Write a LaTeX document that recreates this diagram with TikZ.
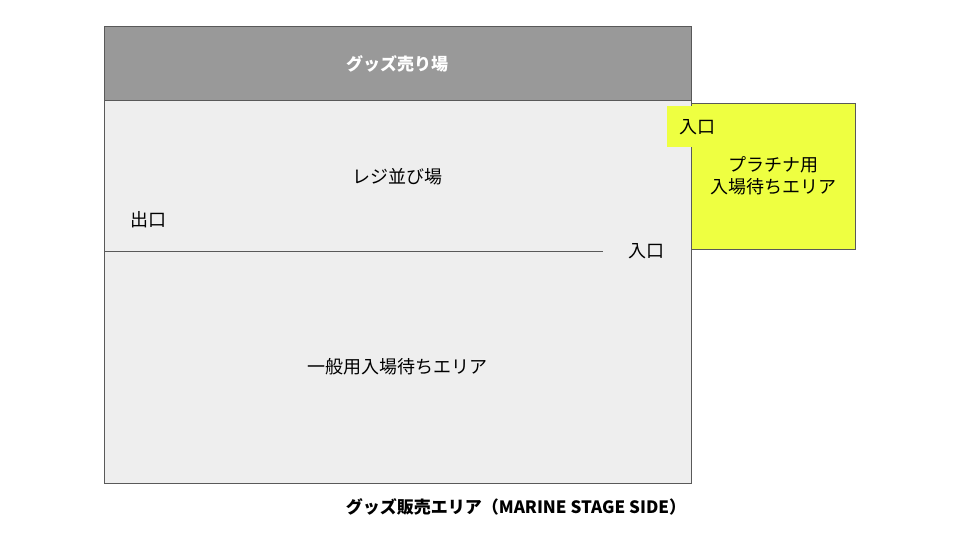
\documentclass[tikz,border=0pt]{standalone}
\usepackage{fontspec}
\setmainfont{Noto Sans CJK JP}
\usetikzlibrary{positioning}
\definecolor{vienxam}{RGB}{89,89,89}
\definecolor{xamdam}{RGB}{153,153,153}
\definecolor{xamnhat}{RGB}{238,238,238}
\definecolor{vangchanh}{RGB}{238,255,65}
\tikzset{
  vien/.style={draw=vienxam, line width=1pt},
  chu/.style={font=\fontsize{18}{22}\selectfont, inner sep=0pt, align=center}
}
\begin{document}
\begin{tikzpicture}[x=1pt,y=-1pt]

            \useasboundingbox[fill=white] (0,0) rectangle (960,540);

            % Vẽ khu vực chờ chung và khu bán hàng
            \draw[vien, fill=xamnhat] (104,101) rectangle (691,483);
            \draw[vien, fill=xamdam] (104,27) rectangle (691,101);

            % Vẽ khu vực chờ bạch kim
            \draw[vien, fill=vangchanh] (691,104) rectangle (855,249);

            % Vẽ đường ngăn
            \draw[vien] (104,251) -- (603,251);

            % Ghi chú các khu vực
            \node[chu, text=white, font=\fontsize{17}{21}\selectfont\bfseries] (banhang) at (397,64) {グッズ売り場};
            \node[chu] (quaythu) at (397,177) {レジ並び場};
            \node[chu] (loira) at (148,220) {出口};
            \node[chu] (loivao) at (646,251) {入口};
            \node[chu] (chochung) at (397,367) {一般用入場待ちエリア};
            \node[chu] (chobachkim) at (773,176) {プラチナ用\\入場待ちエリア};
            \node[chu, fill=vangchanh, anchor=north west, minimum width=60pt, minimum height=41pt, inner xsep=12pt] (loivaobk) at (667,106) {入口};

            % Ghi chú tên toàn khu
            \node[chu, font=\fontsize{17}{21}\selectfont\bfseries] (tenkhu) at (516,507) {グッズ販売エリア（MARINE STAGE SIDE）};

\end{tikzpicture}
\end{document}
